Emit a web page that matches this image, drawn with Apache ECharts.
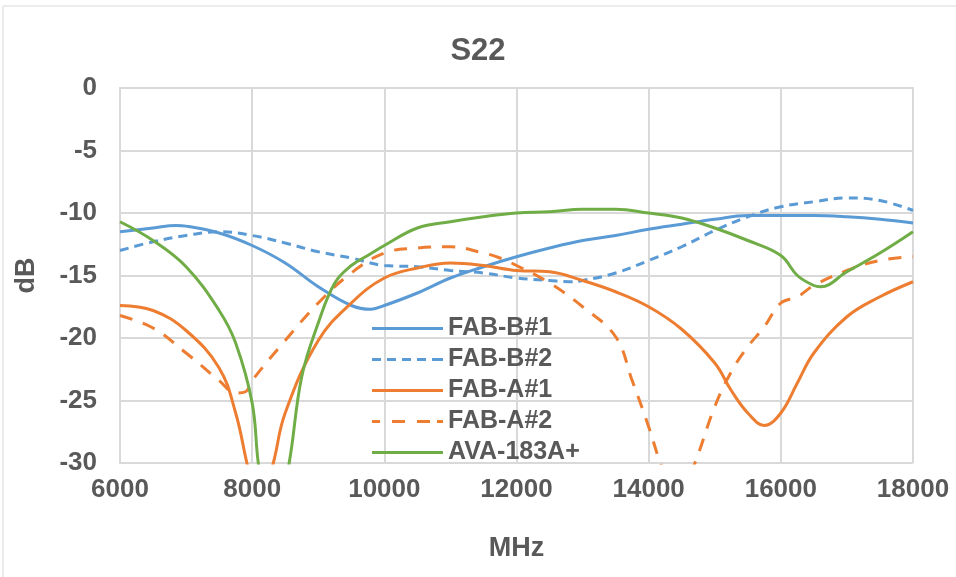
<!DOCTYPE html>
<html>
<head>
<meta charset="utf-8">
<script src="https://cdn.jsdelivr.net/npm/echarts@6/dist/echarts.min.js"></script>
<style>
html,body{margin:0;padding:0;background:#fff;}
#S22{width:956px;height:577px;}
</style>
</head>
<body>
<div id="S22"></div>
<script>
// 频率 (MHz) 与各曲线 dB 值
var fabB1Freq=[6000,6500,6850,7000,7500,8000,8500,9000,9500,9800,10000,10500,11000,11500,12000,12500,13000,13500,14000,14500,15000,15500,16000,16500,17000,17500,18000];
var fabB1Val=[-11.5,-11.2,-11.0,-11.05,-11.6,-12.6,-14.0,-15.9,-17.4,-17.7,-17.4,-16.4,-15.2,-14.3,-13.5,-12.8,-12.2,-11.8,-11.3,-10.9,-10.5,-10.2,-10.2,-10.2,-10.3,-10.5,-10.8];

var fabB2Freq=[6000,6500,7000,7500,8000,8500,9000,9500,10000,10500,11000,11500,12000,12500,12800,13000,13500,14000,14500,15000,15500,16000,16500,17000,17500,18000];
var fabB2Val=[-13.0,-12.3,-11.8,-11.5,-11.8,-12.4,-13.1,-13.6,-14.2,-14.3,-14.6,-14.8,-15.2,-15.4,-15.5,-15.4,-14.8,-13.8,-12.7,-11.4,-10.3,-9.5,-9.1,-8.8,-9.0,-9.8];

var fabA1Freq=[6000,6500,7000,7500,7750,7920,8100,8320,8500,9000,9500,10000,10500,11000,11500,12000,12500,13000,13500,14000,14500,15000,15250,15500,15750,16000,16250,16500,17000,17500,18000];
var fabA1Val=[-17.4,-17.8,-19.4,-22.4,-26.0,-30.0,-34.0,-30.0,-26.0,-20.2,-17.2,-15.2,-14.4,-14.0,-14.2,-14.6,-14.7,-15.4,-16.3,-17.5,-19.3,-22.0,-24.2,-26.0,-27.0,-26.0,-23.6,-21.2,-18.3,-16.7,-15.5];

var fabA2Freq=[6000,6500,7000,7500,7750,7900,8000,8500,9000,9500,10000,10500,11000,11500,11750,12000,12500,13000,13500,13750,14000,14200,14450,14700,15000,15250,15500,15750,16000,16250,16500,17000,17500,18000];
var fabA2Val=[-18.2,-19.2,-21.2,-23.4,-24.4,-24.3,-23.4,-20.2,-17.2,-14.8,-13.2,-12.8,-12.7,-13.2,-13.6,-14.2,-15.6,-17.5,-19.9,-23.4,-27.1,-30.3,-33.0,-30.0,-25.5,-22.7,-20.7,-19.1,-17.2,-16.7,-15.8,-14.6,-13.8,-13.5];

var avaFreq=[6000,6500,7000,7500,7750,8000,8100,8300,8550,8750,9000,9250,9500,9750,10000,10500,11000,11500,12000,12500,13000,13500,14000,14500,15000,15500,16000,16250,16500,16600,17000,17500,18000];
var avaVal=[-10.7,-12.2,-14.3,-17.8,-20.4,-25.2,-30.3,-36.0,-30.3,-23.1,-18.8,-15.6,-14.2,-13.4,-12.6,-11.2,-10.7,-10.3,-10.0,-9.9,-9.7,-9.7,-10.0,-10.4,-11.2,-12.2,-13.4,-15.0,-15.8,-15.9,-14.7,-13.2,-11.5];

var seriesNames=['FAB-B#1','FAB-B#2','FAB-A#1','FAB-A#2','AVA-183A+'];

function pairs(f,v){
    var out=[];
    for(var i=0;i<f.length;i++){
        out.push([f[i],v[i]]);
    }
    return out;
}

// 图例线段图标
var solidIcon='path://M0,0h71v3h-71z';
var dashIcon='path://M0,0h9v3h-9z M15,0h9v3h-9z M30,0h9v3h-9z M45,0h9v3h-9z M60,0h9v3h-9z M68,0h3v3h-3z';
var longDashIcon='path://M0,0h8v3h-8z M20,0h13v3h-13z M45,0h13v3h-13z M65,0h6v3h-6z';

var txt='#595959';
var font='Liberation Sans';

var S22=echarts.init(document.getElementById('S22'));
var option={
    animation:false,
    color:['#5B9BD5','#5B9BD5','#ED7D31','#ED7D31','#70AD47'],
    graphic:[{
        type:'rect',
        shape:{x:3,y:6,width:1000,height:600},
        style:{fill:'none',stroke:'#d9d9d9',lineWidth:1},
        silent:true
    }],
    title:{
        text:'S22',
        left:'center',
        top:31,
        textStyle:{fontFamily:font,fontSize:31,fontWeight:'bold',color:txt}
    },
    legend:{
        orient:'vertical',
        left:367,
        top:311,
        itemWidth:71,
        itemHeight:3,
        itemGap:6,
        textStyle:{fontFamily:font,fontSize:25,fontWeight:'bold',color:txt},
        data:[
            {name:seriesNames[0],icon:solidIcon},
            {name:seriesNames[1],icon:dashIcon},
            {name:seriesNames[2],icon:solidIcon},
            {name:seriesNames[3],icon:longDashIcon},
            {name:seriesNames[4],icon:solidIcon}
        ]
    },
    grid:{left:120,right:43,top:88,bottom:114},
    xAxis:{
        type:'value',
        min:6000,
        max:18000,
        interval:2000,
        name:'MHz',
        nameLocation:'middle',
        nameGap:72,
        nameTextStyle:{fontFamily:font,fontSize:27,fontWeight:'bold',color:txt},
        axisLine:{show:true,lineStyle:{color:'#d9d9d9',width:2}},
        axisTick:{show:false},
        axisLabel:{margin:14,fontFamily:font,fontSize:26,fontWeight:'bold',color:txt,
            formatter:function(v){return String(v);}},
        splitLine:{show:true,lineStyle:{color:'#d9d9d9',width:2}}
    },
    yAxis:{
        type:'value',
        min:-30,
        max:0,
        interval:5,
        name:'dB',
        nameLocation:'middle',
        nameGap:80,
        nameTextStyle:{fontFamily:font,fontSize:27,fontWeight:'bold',color:txt},
        axisLine:{show:true,lineStyle:{color:'#d9d9d9',width:2}},
        axisTick:{show:false},
        axisLabel:{margin:23,fontFamily:font,fontSize:26,fontWeight:'bold',color:txt},
        splitLine:{show:true,lineStyle:{color:'#d9d9d9',width:2}}
    },
    series:[
        {name:seriesNames[0],type:'line',smooth:0.4,symbol:'none',
            lineStyle:{width:3,color:'#5B9BD5'},data:pairs(fabB1Freq,fabB1Val)},
        {name:seriesNames[1],type:'line',smooth:0.4,symbol:'none',
            lineStyle:{width:3,color:'#5B9BD5',type:[9,6]},data:pairs(fabB2Freq,fabB2Val)},
        {name:seriesNames[2],type:'line',smooth:0.4,symbol:'none',
            lineStyle:{width:3,color:'#ED7D31'},data:pairs(fabA1Freq,fabA1Val)},
        {name:seriesNames[3],type:'line',smooth:0.4,symbol:'none',
            lineStyle:{width:3,color:'#ED7D31',type:[13,11]},data:pairs(fabA2Freq,fabA2Val)},
        {name:seriesNames[4],type:'line',smooth:0.4,symbol:'none',
            lineStyle:{width:3,color:'#70AD47'},data:pairs(avaFreq,avaVal)}
    ]
};
S22.setOption(option);
</script>
</body>
</html>
